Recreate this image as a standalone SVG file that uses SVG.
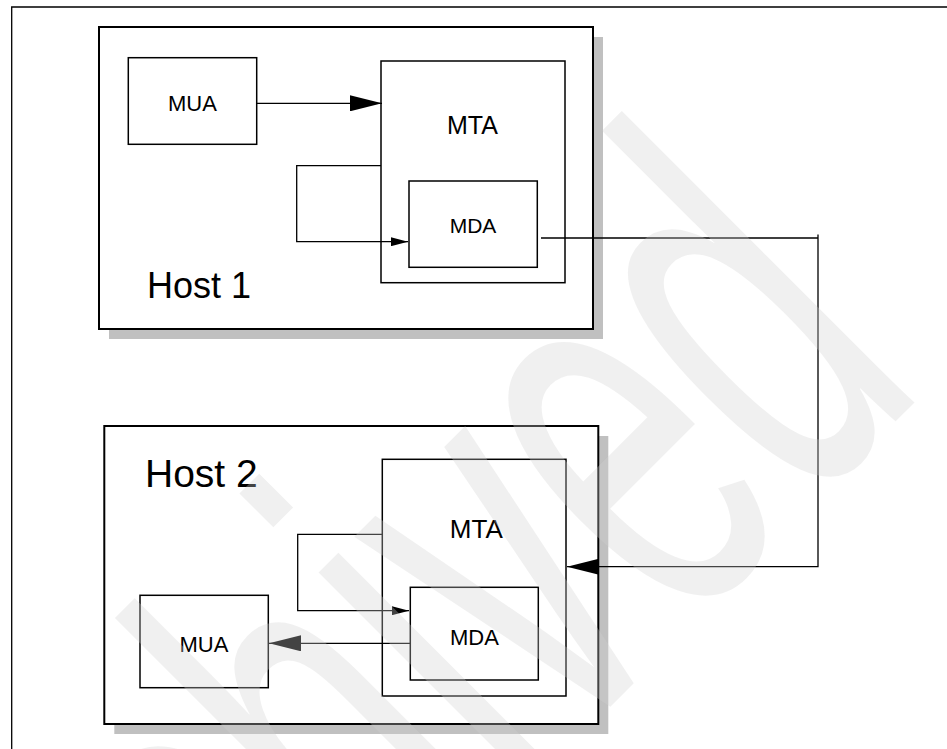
<svg xmlns="http://www.w3.org/2000/svg" width="947" height="749" viewBox="0 0 947 749">
<style>
.shadow{fill:#c0c0c0;stroke:none}
.host{fill:#fff;stroke:#000;stroke-width:2}
.box{fill:#fff;stroke:#000;stroke-width:1.5}
.lbl{font-family:"Liberation Sans",Arial,Helvetica,sans-serif;fill:#000;text-anchor:middle}
.hlbl{font-family:"Liberation Sans",Arial,Helvetica,sans-serif;fill:#000}
.conn{fill:none;stroke:#000;stroke-width:1.3}
.wm{font-family:"Liberation Sans",Arial,Helvetica,sans-serif;fill:#d0d0d0;fill-opacity:0.32}
</style>
<defs>
<marker id="big" markerUnits="userSpaceOnUse" viewBox="0 0 32 16" refX="32" refY="8" markerWidth="32" markerHeight="16" orient="auto">
<path d="M0,0 L32,8 L0,16 Z" fill="#000"/>
</marker>
<marker id="small" markerUnits="userSpaceOnUse" viewBox="0 0 17 9" refX="17" refY="4.5" markerWidth="17" markerHeight="9" orient="auto">
<path d="M0,0 L17,4.5 L0,9 Z" fill="#000"/>
</marker>
</defs>
<rect width="947" height="749" fill="#fff"/>
<path d="M11.7,749 V7 H947" fill="none" stroke="#000" stroke-width="1.3"/>

<g id="host1">
<rect class="shadow" x="109" y="37" width="494" height="302"/>
<rect class="host" x="99" y="27" width="494" height="302"/>
<text class="hlbl" x="147" y="298" font-size="36">Host 1</text>
</g>
<g id="mua1">
<rect class="box" x="128.3" y="57.7" width="128.4" height="86.6"/>
<text class="lbl" x="192.5" y="110.7" font-size="22">MUA</text>
</g>
<g id="mta1">
<rect class="box" x="381" y="61" width="184" height="221.7"/>
<text class="lbl" x="472.5" y="134" font-size="25">MTA</text>
</g>
<g id="mda1">
<rect class="box" x="409" y="181" width="128.3" height="86.3"/>
<text class="lbl" x="473" y="233.3" font-size="21">MDA</text>
</g>

<g id="host2">
<rect class="shadow" x="114.3" y="436" width="494" height="298"/>
<rect class="host" x="104.3" y="426" width="494" height="298"/>
<text class="hlbl" x="145" y="486.7" font-size="39">Host 2</text>
</g>
<g id="mta2">
<rect class="box" x="382.3" y="459.3" width="183.7" height="236.7"/>
<text class="lbl" x="476.3" y="538.3" font-size="26">MTA</text>
</g>
<g id="mda2">
<rect class="box" x="410.3" y="587.3" width="128" height="92.7"/>
<text class="lbl" x="474.5" y="645" font-size="22">MDA</text>
</g>
<g id="mua2">
<rect class="box" x="140" y="595.3" width="128.3" height="92.4"/>
<text class="lbl" x="204" y="651.7" font-size="22">MUA</text>
</g>

<g id="connectors">
<path class="conn" d="M257,103.3 H382" marker-end="url(#big)"/>
<path class="conn" d="M381,165.7 H296.7 V241.7 H408" marker-end="url(#small)"/>
<path class="conn" d="M541,238 H818 M818,234.5 V566.7 H567" marker-end="url(#big)"/>
<path class="conn" d="M382.3,534.3 H297.7 V610.7 H409" marker-end="url(#small)"/>
<path class="conn" d="M410,643.3 H269" marker-end="url(#big)"/>
</g>

<text class="wm" transform="translate(658.5,658.5) rotate(-45) scale(0.558,1)" x="-1532" y="0" font-size="570">Archived</text>
</svg>
